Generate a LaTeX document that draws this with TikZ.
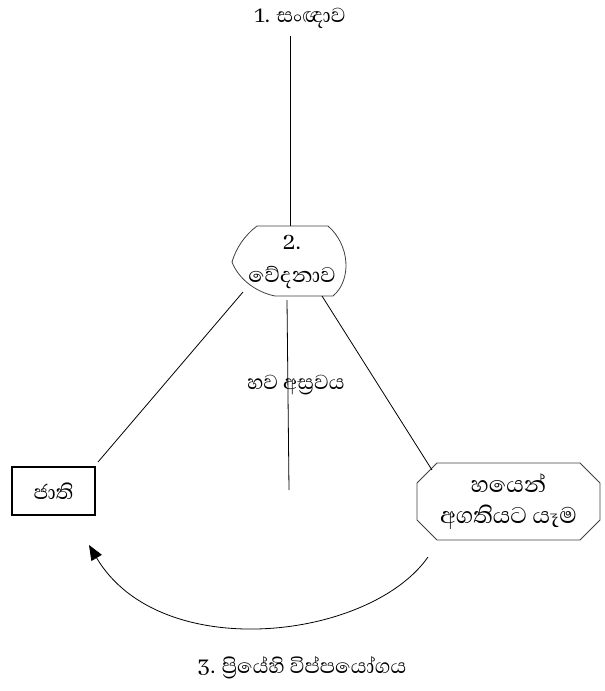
\documentclass[tikz,border=0pt]{standalone}
\usepackage{fontspec}
\setmainfont{Abhaya Libre}[Script=Sinhala]
\usetikzlibrary{shapes.misc,arrows.meta}
\begin{document}
\begin{tikzpicture}[x=1pt,y=-1pt,
  lbl/.style={font=\fontsize{26}{30}\selectfont, inner sep=0pt},
  conn/.style={line width=0.8pt, black},
  jbox/.style={draw, line width=2pt, minimum width=83pt, minimum height=48pt, inner sep=0pt, font=\fontsize{26}{30}\selectfont},
  cbox/.style={draw=black!75, line width=0.8pt, chamfered rectangle, chamfered rectangle xsep=10pt, chamfered rectangle ysep=10pt, minimum width=183pt, minimum height=77pt, inner sep=0pt, align=center, font=\fontsize{29}{31}\selectfont}
]
\useasboundingbox (0,0) rectangle (605,691);

% top label
\node[lbl] (sanna) at (300,18) {1. සංඥාව};
\coordinate (sannaBot) at (290,36);

% shape 2
\draw[draw=black!75, line width=0.8pt] (257,226) -- (328,226) .. controls (350,245) and (352,280) .. (333,296) -- (275,296) .. controls (255,292) and (238,278) .. (232,262) .. controls (236,248) and (245,235) .. (257,226) -- cycle;
\coordinate (vTop) at (290,226);
\coordinate (vLeft) at (243,292);
\coordinate (vMid) at (287,300);
\coordinate (vRight) at (322,296);
\node[lbl, align=center, font=\fontsize{27}{33}\selectfont] (vedana) at (292,262) {2.\\වේදනාව};

% boxes
\node[jbox] (jati) at (53.5,491) {ජාති};
\node[cbox] (bhaya) at (508.5,501.5) {හයෙන්\\අගතියට යෑම};
\coordinate (midEnd) at (289,490);
\coordinate (jatiTR) at (98,462);
\coordinate (bhayaTL) at (432,470);
\coordinate (bhayaBL) at (428,557);
\coordinate (arrowEnd) at (89,545);

% middle label
\node[lbl] (asrava) at (296,385) {හව අස්^^^^200dරවය};

% bottom label
\node[lbl] (piye) at (302,668) {3. ප්^^^^200dරියේහි විප්පයෝගය};

% connectors
\draw[conn] (sannaBot) -- (vTop);
\draw[conn] (vLeft) -- (jatiTR);
\draw[conn] (vMid) -- (midEnd);
\draw[conn] (vRight) -- (bhayaTL);
\draw[conn, -{Triangle[length=15pt,width=12pt]}] (bhayaBL) .. controls (370,640) and (160,665) .. (arrowEnd);
\end{tikzpicture}
\end{document}
